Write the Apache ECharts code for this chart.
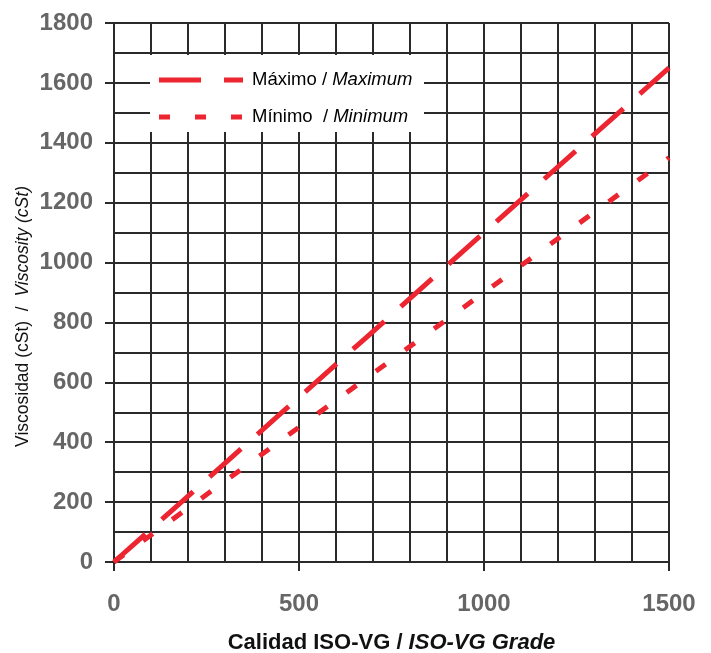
<!DOCTYPE html>
<html>
<head>
<meta charset="utf-8">
<script src="https://cdn.jsdelivr.net/npm/echarts@6/dist/echarts.min.js"></script>
<style>
html,body{margin:0;padding:0;background:#fff;}
#chart{width:711px;height:653px;}
</style>
</head>
<body>
<div id="chart"></div>
<script>
const isoGrades = [0, 10, 22, 46, 100, 150, 220, 320, 460, 680, 1000, 1500];
const maxValues = [0, 11, 24.2, 50.6, 110, 165, 242, 352, 506, 748, 1100, 1650];
const minValues = [0, 9, 19.8, 41.4, 90, 135, 198, 288, 414, 612, 900, 1350];
const seriesNames = ['Máximo / Maximum', 'Mínimo  / Minimum'];
const xTicks = [0, 500, 1000, 1500];
const yTicks = [0, 200, 400, 600, 800, 1000, 1200, 1400, 1600, 1800];

const red = '#ec2530';
const gridColor = '#2a2a2a';
const maxDash = [42, 22];
const minDash = [12, 24];
const chart = echarts.init(document.getElementById('chart'));
const pairs = (xs, ys) => xs.map((x, i) => [x, ys[i]]);

function legendText(n) {
  const p = n.split('/');
  return '{n|' + p[0] + '/ }{i|' + p[1].trim() + '}';
}
const legendRich = {
  n: {fontFamily: 'Liberation Sans', fontSize: 18.5, color: '#111'},
  i: {fontFamily: 'Liberation Sans', fontSize: 18.5, fontStyle: 'italic', color: '#111'}
};

chart.setOption({
  animation: false,
  backgroundColor: '#fff',
  grid: {left: 114, right: 42, top: 23, bottom: 91, containLabel: false, outerBoundsMode: 'none'},
  graphic: [
    {type: 'rect', z: 50, shape: {x: 150, y: 55, width: 274, height: 77}, style: {fill: '#fff'}},
    {type: 'line', z: 51, shape: {x1: 159, y1: 80, x2: 243, y2: 80},
      style: {stroke: red, lineWidth: 5, lineDash: [42, 23]}},
    {type: 'line', z: 51, shape: {x1: 159, y1: 117, x2: 243, y2: 117},
      style: {stroke: red, lineWidth: 5, lineDash: [11, 25]}},
    {type: 'text', z: 51, left: 252, top: 70,
      style: {text: legendText(seriesNames[0]), rich: legendRich}},
    {type: 'text', z: 51, left: 252, top: 107,
      style: {text: legendText(seriesNames[1]), rich: legendRich}}
  ],
  xAxis: {
    type: 'value', min: 0, max: 1500, interval: 500,
    name: '{b|Calidad ISO-VG / }{bi|ISO-VG Grade}',
    nameLocation: 'middle', nameGap: 70,
    nameTextStyle: {
      rich: {
        b: {fontFamily: 'Liberation Sans', fontSize: 22, fontWeight: 'bold', color: '#111'},
        bi: {fontFamily: 'Liberation Sans', fontSize: 22, fontWeight: 'bold', fontStyle: 'italic', color: '#111'}
      }
    },
    axisLine: {show: true, lineStyle: {color: gridColor, width: 2}},
    axisTick: {show: true, length: 9, lineStyle: {color: gridColor, width: 2}},
    axisLabel: {margin: 30, fontFamily: 'Liberation Sans', fontSize: 24, fontWeight: 'bold', color: '#666',
      formatter: v => xTicks.includes(v) ? String(v) : ''},
    splitLine: {show: true, lineStyle: {color: gridColor, width: 2}},
    minorTick: {show: false, splitNumber: 5},
    minorSplitLine: {show: true, lineStyle: {color: gridColor, width: 2}}
  },
  yAxis: {
    type: 'value', min: 0, max: 1800, interval: 200,
    name: 'Viscosidad (cSt)  /  {i|Viscosity (cSt)}',
    nameLocation: 'middle', nameGap: 82, nameMoveOverlap: false,
    nameTextStyle: {fontFamily: 'Liberation Sans', fontSize: 17.5, color: '#111',
      padding: [0, 48, 0, 0],
      rich: {i: {fontFamily: 'Liberation Sans', fontSize: 17.5, fontStyle: 'italic', color: '#111'}}},
    axisLine: {show: true, lineStyle: {color: gridColor, width: 2}},
    axisTick: {show: true, length: 9, lineStyle: {color: gridColor, width: 2}},
    axisLabel: {margin: 21, fontFamily: 'Liberation Sans', fontSize: 24, fontWeight: 'bold', color: '#666',
      formatter: v => yTicks.includes(v) ? String(v) : ''},
    splitLine: {show: true, lineStyle: {color: gridColor, width: 2}},
    minorTick: {show: false, splitNumber: 2},
    minorSplitLine: {show: true, lineStyle: {color: gridColor, width: 2}}
  },
  series: [
    {
      name: seriesNames[0], type: 'line', symbol: 'none', z: 5,
      data: pairs(isoGrades, maxValues),
      lineStyle: {color: red, width: 5, type: maxDash},
      itemStyle: {color: red}
    },
    {
      name: seriesNames[1], type: 'line', symbol: 'none', z: 5,
      data: pairs(isoGrades, minValues),
      lineStyle: {color: red, width: 5, type: minDash},
      itemStyle: {color: red}
    }
  ]
});
</script>
</body>
</html>
